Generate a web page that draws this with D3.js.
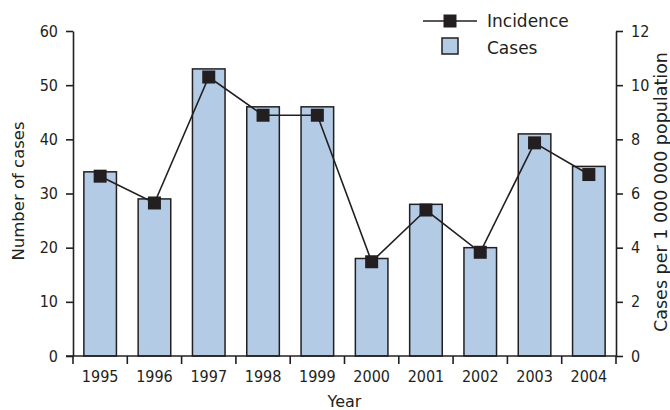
<!DOCTYPE html>
<html lang="en">
<head>
    <meta charset="UTF-8">
    <title>Cases and incidence by year</title>
    <style>
        body { margin: 0; background: #fff; }
        svg { display: block; }
        text { font-family: "DejaVu Sans", sans-serif; fill: #231f20; }
        .tick text { font-family: "DejaVu Sans Condensed", "DejaVu Sans", sans-serif; font-size: 16px; }
        .axis path, .axis line { stroke: #231f20; stroke-width: 1.6px; }
    </style>
</head>
<body>
    <div id="chart"></div>
    <script src="https://d3js.org/d3.v7.min.js"></script>
    <script>
        // data
        const years = ["1995", "1996", "1997", "1998", "1999", "2000", "2001", "2002", "2003", "2004"];
        const cases = [34, 29, 53, 46, 46, 18, 28, 20, 41, 35];
        const incidence = [6.64, 5.65, 10.3, 8.89, 8.89, 3.48, 5.39, 3.83, 7.87, 6.7];
        const leftTicks = [0, 10, 20, 30, 40, 50, 60];
        const rightTicks = [0, 2, 4, 6, 8, 10, 12];

        const width = 670, height = 410;
        const margin = { top: 31, right: 54, bottom: 54, left: 73 };
        const innerW = width - margin.left - margin.right;
        const innerH = height - margin.top - margin.bottom;

        const svg = d3.select("#chart").append("svg")
            .attr("width", width)
            .attr("height", height);

        const g = svg.append("g")
            .attr("transform", `translate(${margin.left},${margin.top})`);

        const xb = d3.scaleBand().domain(years).range([0, innerW]);
        const yL = d3.scaleLinear().domain([0, 60]).range([innerH, 0]);
        const yR = d3.scaleLinear().domain([0, 12]).range([innerH, 0]);

        // bars
        g.selectAll("rect.bar")
            .data(cases)
            .enter().append("rect")
            .attr("class", "bar")
            .attr("x", (d, i) => xb(years[i]) + xb.bandwidth() * 0.2)
            .attr("width", xb.bandwidth() * 0.6)
            .attr("y", d => yL(d))
            .attr("height", d => innerH - yL(d))
            .attr("fill", "#b4cbe6")
            .attr("stroke", "#231f20")
            .attr("stroke-width", 1.5);

        // left axis
        g.append("g").attr("class", "axis")
            .call(d3.axisLeft(yL).tickValues(leftTicks).tickSize(7).tickSizeOuter(0).tickPadding(8));

        // right axis
        g.append("g").attr("class", "axis")
            .attr("transform", `translate(${innerW},0)`)
            .call(d3.axisRight(yR).tickValues(rightTicks).tickSize(7).tickSizeOuter(0).tickPadding(8));

        // bottom axis, ticks on band edges
        const xAxis = g.append("g").attr("class", "axis")
            .attr("transform", `translate(0,${innerH})`);
        xAxis.append("line")
            .attr("x1", -7).attr("x2", innerW)
            .attr("stroke", "#231f20").attr("stroke-width", 1.6);
        const edges = years.map(y => xb(y)).concat([innerW]);
        xAxis.selectAll("line.edge")
            .data(edges)
            .enter().append("line")
            .attr("class", "edge")
            .attr("x1", d => d).attr("x2", d => d)
            .attr("y1", 0).attr("y2", 8)
            .attr("stroke", "#231f20").attr("stroke-width", 1.6);
        xAxis.selectAll("text")
            .data(years)
            .enter().append("text")
            .attr("x", d => xb(d) + xb.bandwidth() / 2)
            .attr("y", 26)
            .attr("text-anchor", "middle")
            .style("font-family", "'DejaVu Sans Condensed', 'DejaVu Sans', sans-serif")
            .style("font-size", "16px")
            .text(d => d);

        // incidence line
        const line = d3.line()
            .x((d, i) => xb(years[i]) + xb.bandwidth() / 2)
            .y(d => yR(d));
        g.append("path")
            .datum(incidence)
            .attr("d", line)
            .attr("fill", "none")
            .attr("stroke", "#231f20")
            .attr("stroke-width", 1.6);

        const ms = 13;
        g.selectAll("rect.marker")
            .data(incidence)
            .enter().append("rect")
            .attr("class", "marker")
            .attr("x", (d, i) => xb(years[i]) + xb.bandwidth() / 2 - ms / 2)
            .attr("y", d => yR(d) - ms / 2)
            .attr("width", ms)
            .attr("height", ms)
            .attr("fill", "#231f20");

        // axis titles
        svg.append("text")
            .attr("transform", "translate(24,191) rotate(-90)")
            .attr("text-anchor", "middle")
            .style("font-size", "16.5px")
            .text("Number of cases");

        svg.append("text")
            .attr("transform", "translate(667,192) rotate(-90)")
            .attr("text-anchor", "middle")
            .style("font-size", "17.5px")
            .text("Cases per 1 000 000 population");

        svg.append("text")
            .attr("x", margin.left + innerW / 2)
            .attr("y", 407)
            .attr("text-anchor", "middle")
            .style("font-size", "16px")
            .text("Year");

        // legend
        const leg = svg.append("g");
        leg.append("line")
            .attr("x1", 423).attr("x2", 477).attr("y1", 21).attr("y2", 21)
            .attr("stroke", "#231f20").attr("stroke-width", 1.6);
        leg.append("rect")
            .attr("x", 450 - ms / 2).attr("y", 21 - ms / 2)
            .attr("width", ms).attr("height", ms)
            .attr("fill", "#231f20");
        leg.append("text")
            .attr("x", 487).attr("y", 27)
            .style("font-size", "17px")
            .text("Incidence");
        leg.append("rect")
            .attr("x", 442).attr("y", 38)
            .attr("width", 16).attr("height", 16)
            .attr("fill", "#b4cbe6")
            .attr("stroke", "#231f20")
            .attr("stroke-width", 1.5);
        leg.append("text")
            .attr("x", 487).attr("y", 54)
            .style("font-size", "17px")
            .text("Cases");
    </script>
</body>
</html>
